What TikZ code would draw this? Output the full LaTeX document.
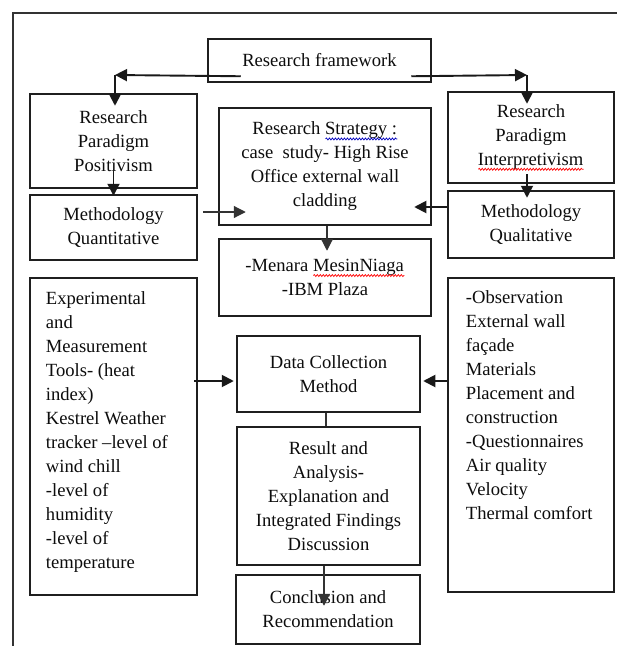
\documentclass[tikz,border=0pt]{standalone}
\usepackage{fontspec}
\setmainfont{Liberation Serif}
\usetikzlibrary{arrows.meta,decorations.pathmorphing}
\newcommand\figfont{\fontsize{18.6}{24}\selectfont}
\newcommand\wavy[2]{\setbox0\hbox{#2}\rlap{\copy0}\tikz[baseline=0pt]\draw[draw=#1,line width=0.7pt,decorate,decoration={snake,amplitude=1pt,segment length=3pt}] (0pt,-4pt)--(\wd0,-4pt);}
\tikzset{
  box/.style={draw=black!88, line width=2.5pt, inner sep=0pt, align=center, font=\figfont, text=black!95},
  txt/.style={inner sep=0pt, align=left, font=\figfont, text=black!95},
  arr/.style={draw=black!90, line width=1.9pt, -{Triangle[length=12pt,width=12pt]}},
  tarr/.style={draw=black!80, line width=1.2pt, -{Triangle[length=12pt,width=12pt]}},
  tline/.style={draw=black!80, line width=1.1pt},
  frame/.style={draw=black!80, line width=2.2pt}
}
\begin{document}
\begin{tikzpicture}[x=1pt,y=-1pt]
\useasboundingbox (0,0) rectangle (617,646);
\fill[white] (0,0) rectangle (617,646);
% outer frame (runs beyond the picture)
\draw[frame] (13,646) -- (13,13) -- (617,13);

% boxes
\node[box, minimum width=223pt, minimum height=43pt] (rf) at (319.5,60.5) {Research framework};
\node[box, minimum width=167pt, minimum height=94pt] (rpp) at (113.5,141) {Research\\Paradigm\\Positivism};
\node[box, minimum width=167pt, minimum height=65pt] (mqn) at (113.5,227.5) {Methodology\\Quantitative};
\node[box, minimum width=212pt, minimum height=117pt] (rs) at (325,166.5) {Research \wavy{blue!75!black}{Strategy :}\\case\ \ study- High Rise\\Office external wall\\cladding};
\node[box, minimum width=212pt, minimum height=77pt] (mn) at (325,277.5) {-Menara \wavy{red}{MesinNiaga}\\-IBM Plaza};
\node[box, minimum width=166pt, minimum height=91pt] (rpi) at (531,137.5) {Research\\Paradigm\\\wavy{red}{Interpretivism}};
\node[box, minimum width=166pt, minimum height=67pt] (mql) at (531,224.5) {Methodology\\Qualitative};
\node[box, minimum width=167pt, minimum height=317pt] (exp) at (113.5,436.5) {};
\node[box, minimum width=166pt, minimum height=314pt] (obs) at (531,435) {};
\node[box, minimum width=183pt, minimum height=76pt] (dc) at (328.5,374) {Data Collection\\Method};
\node[box, minimum width=183pt, minimum height=138pt] (ra) at (328.5,496) {Result and\\Analysis-\\Explanation and\\Integrated Findings\\Discussion};
\node[box, minimum width=184pt, minimum height=69pt] (cr) at (328,609.5) {Conclusion and\\Recommendation};

% texts of the tall boxes
\node[txt, anchor=north west] (expt) at ([xshift=17pt,yshift=-15pt]exp.north west) {Experimental\\and\\Measurement\\Tools- (heat\\index)\\Kestrel Weather\\tracker –level of\\wind chill\\-level of\\humidity\\-level of\\temperature};
\node[txt, anchor=north west] (obst) at ([xshift=19pt,yshift=-14pt]obs.north west) {-Observation\\External wall\\façade\\Materials\\Placement and\\construction\\-Questionnaires\\Air quality\\Velocity\\Thermal comfort};

% connectors
\coordinate (cl) at (115,75);
\coordinate (cri) at (527,75);
\draw[arr] ([xshift=34pt,yshift=7pt]rf.south west) -- (cl);
\draw[arr, shorten >=-13pt] (cl) -- (cl |- rpp.north);
\draw[arr] ([xshift=-21pt,yshift=7pt]rf.south east) -- (cri);
\draw[arr, shorten >=-13pt] (cri) -- (cri |- rpi.north);

\draw[arr] ([yshift=20pt]rpp.south) -- ([yshift=-2pt]mqn.north);
\draw[arr] ([xshift=-4pt,yshift=10pt]rpi.south) -- ([xshift=-4pt,yshift=-8pt]mql.north);

\draw[tarr] ([xshift=5pt,yshift=15.5pt]mqn.east) -- ([xshift=28pt,yshift=-45.5pt]rs.west);
\draw[arr] ([yshift=17.5pt]mql.west) -- ([xshift=-18pt,yshift=-40.5pt]rs.east);
\draw[tarr] ([xshift=2pt]rs.south) -- ([xshift=2pt,yshift=-13pt]mn.north);

\draw[arr] ([xshift=-4pt,yshift=55.5pt]exp.east) -- ([xshift=-2pt,yshift=-7pt]dc.west);
\draw[arr] ([yshift=54pt]obs.west) -- ([xshift=2pt,yshift=-7pt]dc.east);
\draw[tline] ([xshift=-2.5pt]dc.south) -- ([xshift=-2.5pt]ra.north);
\draw[tarr] ([xshift=-4.5pt]ra.south) -- ([xshift=-4pt,yshift=-32pt]cr.north);
\end{tikzpicture}
\end{document}
